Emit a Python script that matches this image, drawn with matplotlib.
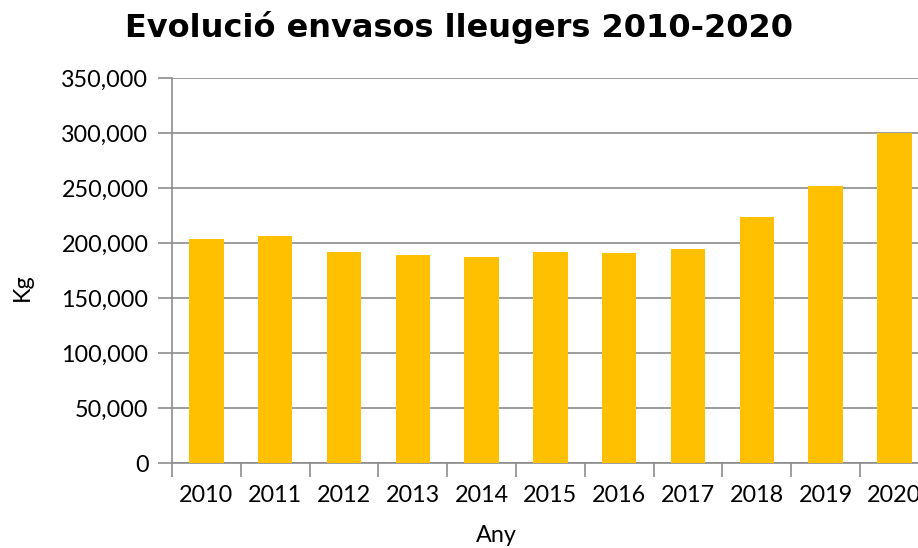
import numpy as np
import matplotlib
matplotlib.use("Agg")
import matplotlib.pyplot as plt
from matplotlib.ticker import FuncFormatter, FixedLocator

# Data
years = ["2010", "2011", "2012", "2013", "2014", "2015",
         "2016", "2017", "2018", "2019", "2020"]
kg = [204000, 206000, 192000, 189500, 187500, 192000,
      191000, 195000, 224000, 252000, 300000]

bar_color = "#FFC000"
grid_color = "#8c8c8c"

plt.rcParams['font.family'] = ['Lato', 'DejaVu Sans']

W, H = 918, 548
fig = plt.figure(figsize=(W / 100, H / 100), dpi=100)

# axes position in pixels (left, top, bottom); the axis runs past the right edge like the original
left, top, bottom = 172, 78, 463
right = left + 11 * 68.8
ax = fig.add_axes([left / W, 1 - bottom / H, (right - left) / W, (bottom - top) / H])

x = np.arange(len(years))
ax.bar(x, kg, width=0.5, color=bar_color, zorder=3)

ax.set_xlim(-0.5, len(years) - 0.5)
ax.set_ylim(0, 350000)

ax.set_yticks(np.arange(0, 350001, 50000))
ax.yaxis.set_major_formatter(FuncFormatter(lambda v, p: f"{int(v):,}"))
ax.grid(axis="y", color=grid_color, linewidth=1.2, zorder=0)

ax.set_xticks(x)
ax.set_xticklabels(years)
ax.xaxis.set_minor_locator(FixedLocator(np.arange(-0.5, len(years), 1.0)))

ax.tick_params(axis="y", length=10, width=1.2, color=grid_color, pad=7, labelsize=16.8)
ax.tick_params(axis="x", which="major", length=0, pad=16, labelsize=16.8)
ax.tick_params(axis="x", which="minor", length=10, width=1.2, color=grid_color)

for s in ["top", "right"]:
    ax.spines[s].set_visible(False)
for s in ["left", "bottom"]:
    ax.spines[s].set_color(grid_color)
    ax.spines[s].set_linewidth(1.2)

fig.text(459 / W, 1 - 28 / H, "Evolució envasos lleugers 2010-2020",
         family="DejaVu Sans", fontweight="bold", fontsize=23,
         ha="center", va="center")
fig.text(496 / W, 1 - 536 / H, "Any", fontsize=16.8, ha="center", va="center")
fig.text(22 / W, 1 - 287 / H, "Kg", fontsize=16.8, rotation=90, ha="center", va="center")

fig.savefig("out.png", dpi=100)
